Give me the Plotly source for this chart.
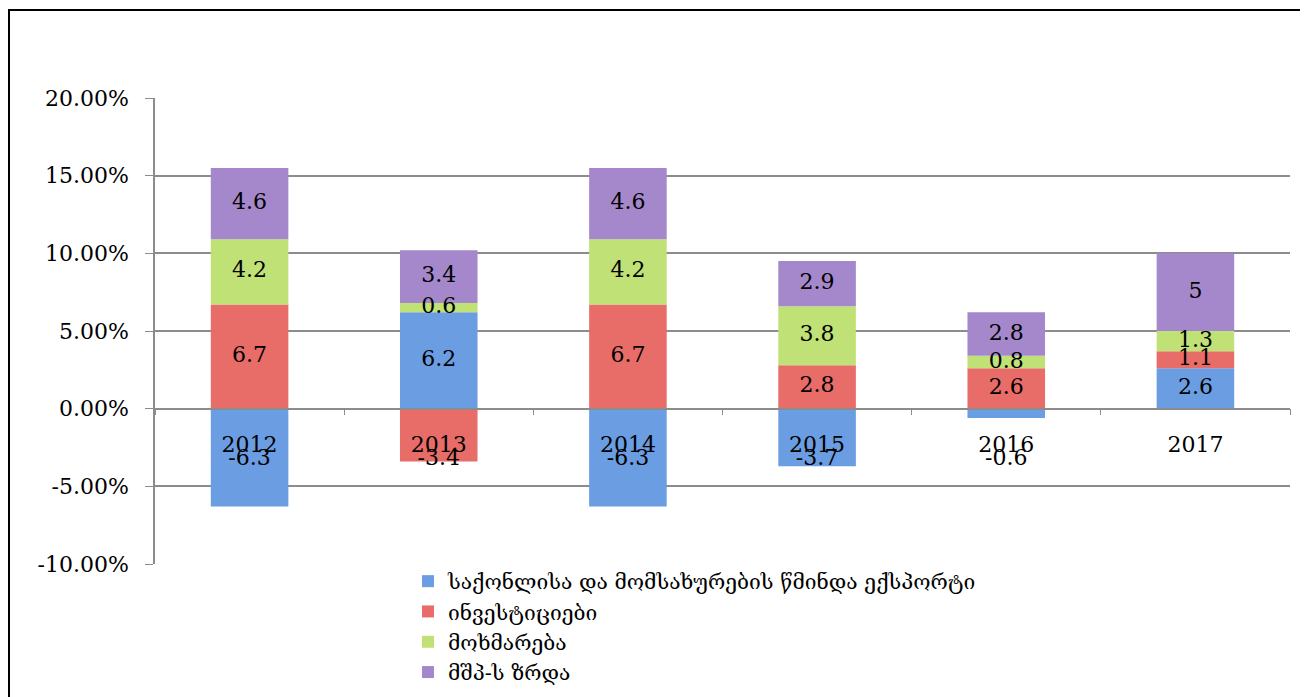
import numpy as np
import plotly.graph_objects as go

years = ["2012", "2013", "2014", "2015", "2016", "2017"]
net_export = [-6.3, 6.2, -6.3, -3.7, -0.6, 2.6]
investment = [6.7, -3.4, 6.7, 2.8, 2.6, 1.1]
consumption = [4.2, 0.6, 4.2, 3.8, 0.8, 1.3]
gdp_growth = [4.6, 3.4, 4.6, 2.9, 2.8, 5]
y_ticks = [-10, -5, 0, 5, 10, 15, 20]

series_names = [
    "საქონლისა და მომსახურების წმინდა ექსპორტი",
    "ინვესტიციები",
    "მოხმარება",
    "მშპ-ს ზრდა",
]
colors = ["#6b9de2", "#e86c68", "#bfe176", "#a488cb"]

serif = "DejaVu Serif"
series = [net_export, investment, consumption, gdp_growth]
W, H = 1308, 697

fig = go.Figure()
for name, vals, col in zip(series_names, series, colors):
    fig.add_trace(go.Bar(
        x=years, y=vals, name=name,
        marker=dict(color=col, line=dict(width=0)),
    ))

# label positions: middle of each stacked piece; negative pieces sit below the year labels
pos_base = np.zeros(len(years))
lab_x, lab_y, lab_t = [], [], []
for vals in series:
    for i, v in enumerate(vals):
        if v >= 0:
            y = pos_base[i] + v / 2
            pos_base[i] += v
        else:
            y = min(v / 2, -3.3)
        lab_x.append(years[i])
        lab_y.append(y)
        lab_t.append(f"{v:g}")

fig.add_trace(go.Scatter(
    x=lab_x, y=lab_y, text=lab_t, mode="text",
    textfont=dict(family=serif, size=22, color="black"),
    showlegend=False, hoverinfo="skip", cliponaxis=False,
))

# the page adds an 8px body margin, so pixel positions here are 8px less than on screen
# plot box: x 147..1282, y 90..556
y_dom = [1 - 556 / H, 1 - 90 / H]
zero_pos = y_dom[0] + (y_dom[1] - y_dom[0]) / 3

fig.update_layout(
    width=W, height=H,
    barmode="relative", bargap=0.59,
    paper_bgcolor="white", plot_bgcolor="white",
    margin=dict(l=0, r=0, t=0, b=0),
    font=dict(family=serif, size=21, color="black"),
    legend=dict(
        orientation="v", x=687 / W, xanchor="center", y=1 - 553 / H, yanchor="top",
        font=dict(family="DejaVu Serif", size=21, color="black"),
        bgcolor="rgba(0,0,0,0)", tracegroupgap=0, traceorder="normal",
    ),
    shapes=[dict(
        type="rect", xref="paper", yref="paper",
        x0=1 / W, x1=1295 / W, y0=-0.05, y1=1 - 2 / H,
        line=dict(color="black", width=2),
    )],
)

fig.update_yaxes(
    domain=y_dom,
    range=[-10, 20], tickvals=y_ticks, ticktext=[f"{t:.2f}%" for t in y_ticks],
    showgrid=True, gridcolor="#8c8c8c", gridwidth=1.5,
    showline=True, linecolor="#8c8c8c", linewidth=1.5,
    ticks="outside", ticklen=8, tickcolor="#8c8c8c", ticklabelstandoff=12,
    zeroline=False, automargin=False, tickfont=dict(family=serif, size=22),
)
fig.update_xaxes(
    domain=[147 / W, 1282 / W],
    anchor="free", position=zero_pos, automargin=False,
    showline=True, linecolor="#8c8c8c", linewidth=1.5,
    ticks="outside", tickson="boundaries", ticklen=6, tickcolor="#8c8c8c",
    ticklabelstandoff=16,
    showgrid=False, tickfont=dict(family=serif, size=22),
)

fig.write_html("out.html")
